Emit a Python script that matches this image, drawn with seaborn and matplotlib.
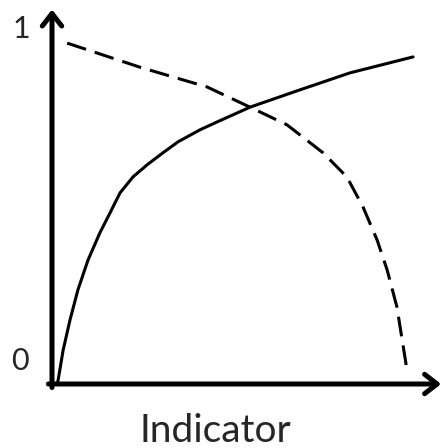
import matplotlib
matplotlib.use("Agg")
import matplotlib.pyplot as plt
import seaborn as sns
import pandas as pd

# Data (normalized: x 0..1 along the indicator axis, y 0..1)
solid_x = [0.014, 0.017, 0.031, 0.050, 0.072, 0.100, 0.133, 0.161, 0.189, 0.225,
           0.264, 0.308, 0.350, 0.411, 0.458, 0.550, 0.689, 0.828, 1.003]
solid_y = [0.000, 0.011, 0.096, 0.181, 0.266, 0.350, 0.427, 0.483, 0.540, 0.585,
           0.619, 0.653, 0.684, 0.718, 0.740, 0.782, 0.831, 0.879, 0.924]
dashed_x = [0.042, 0.244, 0.431, 0.550, 0.653, 0.753, 0.819, 0.864, 0.903, 0.931, 0.958, 0.986]
dashed_y = [0.963, 0.895, 0.839, 0.782, 0.732, 0.653, 0.585, 0.500, 0.407, 0.322, 0.218, 0.040]
tick_labels = ["0", "1"]
x_label = "Indicator"

df = pd.concat([
    pd.DataFrame({"x": solid_x, "y": solid_y, "series": "solid"}),
    pd.DataFrame({"x": dashed_x, "y": dashed_y, "series": "dashed"}),
], ignore_index=True)

sns.set_style("white")
plt.rcParams["font.family"] = ["Lato", "DejaVu Sans"]

fig = plt.figure(figsize=(4.42, 4.48), dpi=100)
ax = fig.add_axes([0, 0, 1, 1])

sns.lineplot(data=df, x="x", y="y", style="series", sort=False,
             dashes={"solid": "", "dashed": (6.5, 3.0)},
             color="black", linewidth=2.2, legend=False, ax=ax,
             estimator=None)

ax.set_xlim(-52 / 360, 390 / 360)
ax.set_ylim(-64 / 354, 384 / 354)
for s in ax.spines.values():
    s.set_visible(False)
ax.set_xticks([])
ax.set_yticks([])
ax.set_xlabel("")
ax.set_ylabel("")

arrow = dict(arrowstyle="->,head_length=0.45,head_width=0.35", lw=3.6,
             color="black", mutation_scale=20, shrinkA=0, shrinkB=0)
ax.annotate("", xy=(1.081, 0), xytext=(-0.01, 0), arrowprops=arrow)
ax.annotate("", xy=(0, 1.058), xytext=(0, -0.01), arrowprops=arrow)

ax.text(-0.086, 1.003, tick_labels[1], fontsize=22, ha="center", va="center")
ax.text(-0.089, 0.065, tick_labels[0], fontsize=22, ha="center", va="center")
ax.text(0.453, -0.164, x_label, fontsize=28, ha="center", va="baseline")

fig.savefig("out.png", dpi=100)
